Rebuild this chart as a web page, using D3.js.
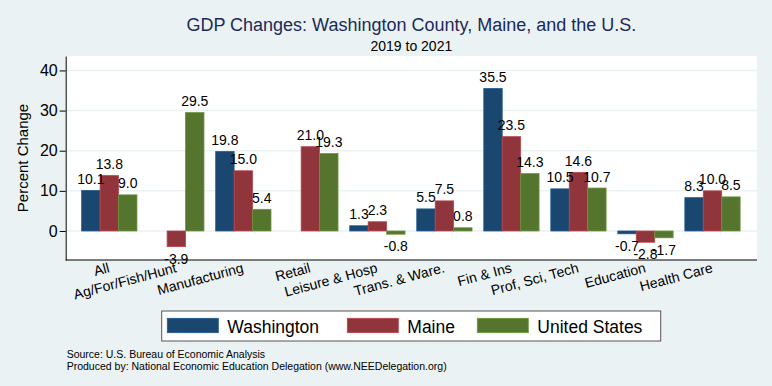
<!DOCTYPE html>
<html>
<head>
<meta charset="utf-8">
<script src="https://cdn.jsdelivr.net/npm/d3@7"></script>
<style>
  body { margin: 0; background: #eaf2f3; }
  svg { display: block; font-family: "Liberation Sans", Arial, Helvetica, sans-serif; }
</style>
</head>
<body>
<svg id="chart" width="772" height="386"></svg>
<script>
// Data (null = no bar shown)
var categories = ["All", "Ag/For/Fish/Hunt", "Manufacturing", "Retail", "Leisure & Hosp",
  "Trans. & Ware.", "Fin & Ins", "Prof, Sci, Tech", "Education", "Health Care"];
var washington = [10.1, null, 19.8, null, 1.3, 5.5, 35.5, 10.5, -0.7, 8.3];
var maine = [13.8, -3.9, 15.0, 21.0, 2.3, 7.5, 23.5, 14.6, -2.8, 10.0];
var unitedStates = [9.0, 29.5, 5.4, 19.3, -0.8, 0.8, 14.3, 10.7, -1.7, 8.5];
var seriesNames = ["Washington", "Maine", "United States"];
var yTicks = [0, 10, 20, 30, 40];

var colors = ["#1a476f", "#90353b", "#55752f"];
var seriesValues = [washington, maine, unitedStates];

var svg = d3.select("#chart"),
  plotL = 65.7, plotR = 757, plotT = 56, plotB = 260;

// plot region
svg.append("rect").attr("x", plotL).attr("y", plotT)
  .attr("width", plotR - plotL).attr("height", plotB - plotT).attr("fill", "#fff");

var y = d3.scaleLinear().domain([-7.23, 43.6]).range([plotB, plotT]);
var x0 = d3.scaleBand().domain(categories).range([75.8, 746]).paddingInner(0.175).paddingOuter(0.0875);
var x1 = d3.scaleBand().domain(seriesNames).range([0, x0.bandwidth()]);

// gridlines
svg.append("g").selectAll("line").data(yTicks).enter().append("line")
  .attr("x1", plotL).attr("x2", plotR)
  .attr("y1", function (d) { return y(d); }).attr("y2", function (d) { return y(d); })
  .attr("stroke", "#eaf2f3").attr("stroke-width", 1.5);

// bars
var rows = [];
categories.forEach(function (c, i) {
  seriesNames.forEach(function (s, j) {
    if (seriesValues[j][i] !== null) rows.push({ cat: c, series: s, idx: j, value: seriesValues[j][i] });
  });
});

svg.append("g").selectAll("rect").data(rows).enter().append("rect")
  .attr("x", function (d) { return x0(d.cat) + x1(d.series); })
  .attr("width", x1.bandwidth())
  .attr("y", function (d) { return y(Math.max(0, d.value)); })
  .attr("height", function (d) { return Math.abs(y(d.value) - y(0)); })
  .attr("fill", function (d) { return colors[d.idx]; })
  .attr("stroke", function (d) { return d3.color(colors[d.idx]).brighter(0.7); })
  .attr("stroke-width", 0.8);

// value labels
svg.append("g").selectAll("text").data(rows).enter().append("text")
  .attr("x", function (d) { return x0(d.cat) + x1(d.series) + x1.bandwidth() / 2; })
  .attr("y", function (d) { return d.value >= 0 ? y(d.value) - 6.5 : y(d.value) + 17; })
  .attr("text-anchor", "middle")
  .attr("font-size", 14)
  .attr("fill", "#000")
  .text(function (d) { return d.value.toFixed(1); });

// y axis
var yAxis = svg.append("g").attr("transform", "translate(" + plotL + ",0)")
  .call(d3.axisLeft(y).tickValues(yTicks).tickSize(6).tickSizeOuter(0).tickPadding(2));
yAxis.select(".domain").attr("stroke", "#000");
yAxis.selectAll(".tick line").attr("stroke", "#000");
yAxis.selectAll(".tick text").attr("font-size", 16).attr("font-family", null).attr("fill", "#000");

// x axis
var xAxis = svg.append("g").attr("transform", "translate(0," + plotB + ")")
  .call(d3.axisBottom(x0).tickSize(0));
xAxis.select(".domain").remove();
xAxis.selectAll(".tick text")
  .attr("font-size", 14).attr("font-family", null).attr("fill", "#000")
  .attr("y", null).attr("dy", null)
  .attr("text-anchor", "end")
  .attr("transform", "translate(1,12) rotate(-15)");
svg.append("line").attr("x1", plotL).attr("x2", plotR).attr("y1", plotB).attr("y2", plotB)
  .attr("stroke", "#000");

// y axis title
svg.append("text").attr("transform", "translate(28," + ((plotT + plotB) / 2) + ") rotate(-90)")
  .attr("text-anchor", "middle").attr("font-size", 15).text("Percent Change");

// titles
svg.append("text").attr("x", (plotL + plotR) / 2).attr("y", 31).attr("text-anchor", "middle")
  .attr("font-size", 18).attr("fill", "#1c2a59")
  .text("GDP Changes: Washington County, Maine, and the U.S.");
svg.append("text").attr("x", (plotL + plotR) / 2).attr("y", 51).attr("text-anchor", "middle")
  .attr("font-size", 14).attr("fill", "#000").text("2019 to 2021");

// legend
var legend = svg.append("g");
legend.append("rect").attr("x", 161.7).attr("y", 311).attr("width", 499).attr("height", 30)
  .attr("fill", "#fff").attr("stroke", "#555").attr("stroke-width", 1);
var legendX = [167.3, 347.3, 477.3];
var items = legend.selectAll("g.item").data(seriesNames).enter().append("g")
  .attr("transform", function (d, i) { return "translate(" + legendX[i] + ",0)"; });
items.append("rect").attr("x", 0).attr("y", 318.3).attr("width", 51).attr("height", 14.4)
  .attr("fill", function (d, i) { return colors[i]; })
  .attr("stroke", function (d, i) { return d3.color(colors[i]).brighter(0.7); })
  .attr("stroke-width", 0.8);
items.append("text").attr("x", 60).attr("y", 332.5).attr("font-size", 17.5).text(function (d) { return d; });

// footer
svg.append("text").attr("x", 66.7).attr("y", 357.5).attr("font-size", 10.5)
  .text("Source: U.S. Bureau of Economic Analysis");
svg.append("text").attr("x", 66.7).attr("y", 369.5).attr("font-size", 10.5)
  .text("Produced by: National Economic Education Delegation (www.NEEDelegation.org)");
</script>
</body>
</html>
